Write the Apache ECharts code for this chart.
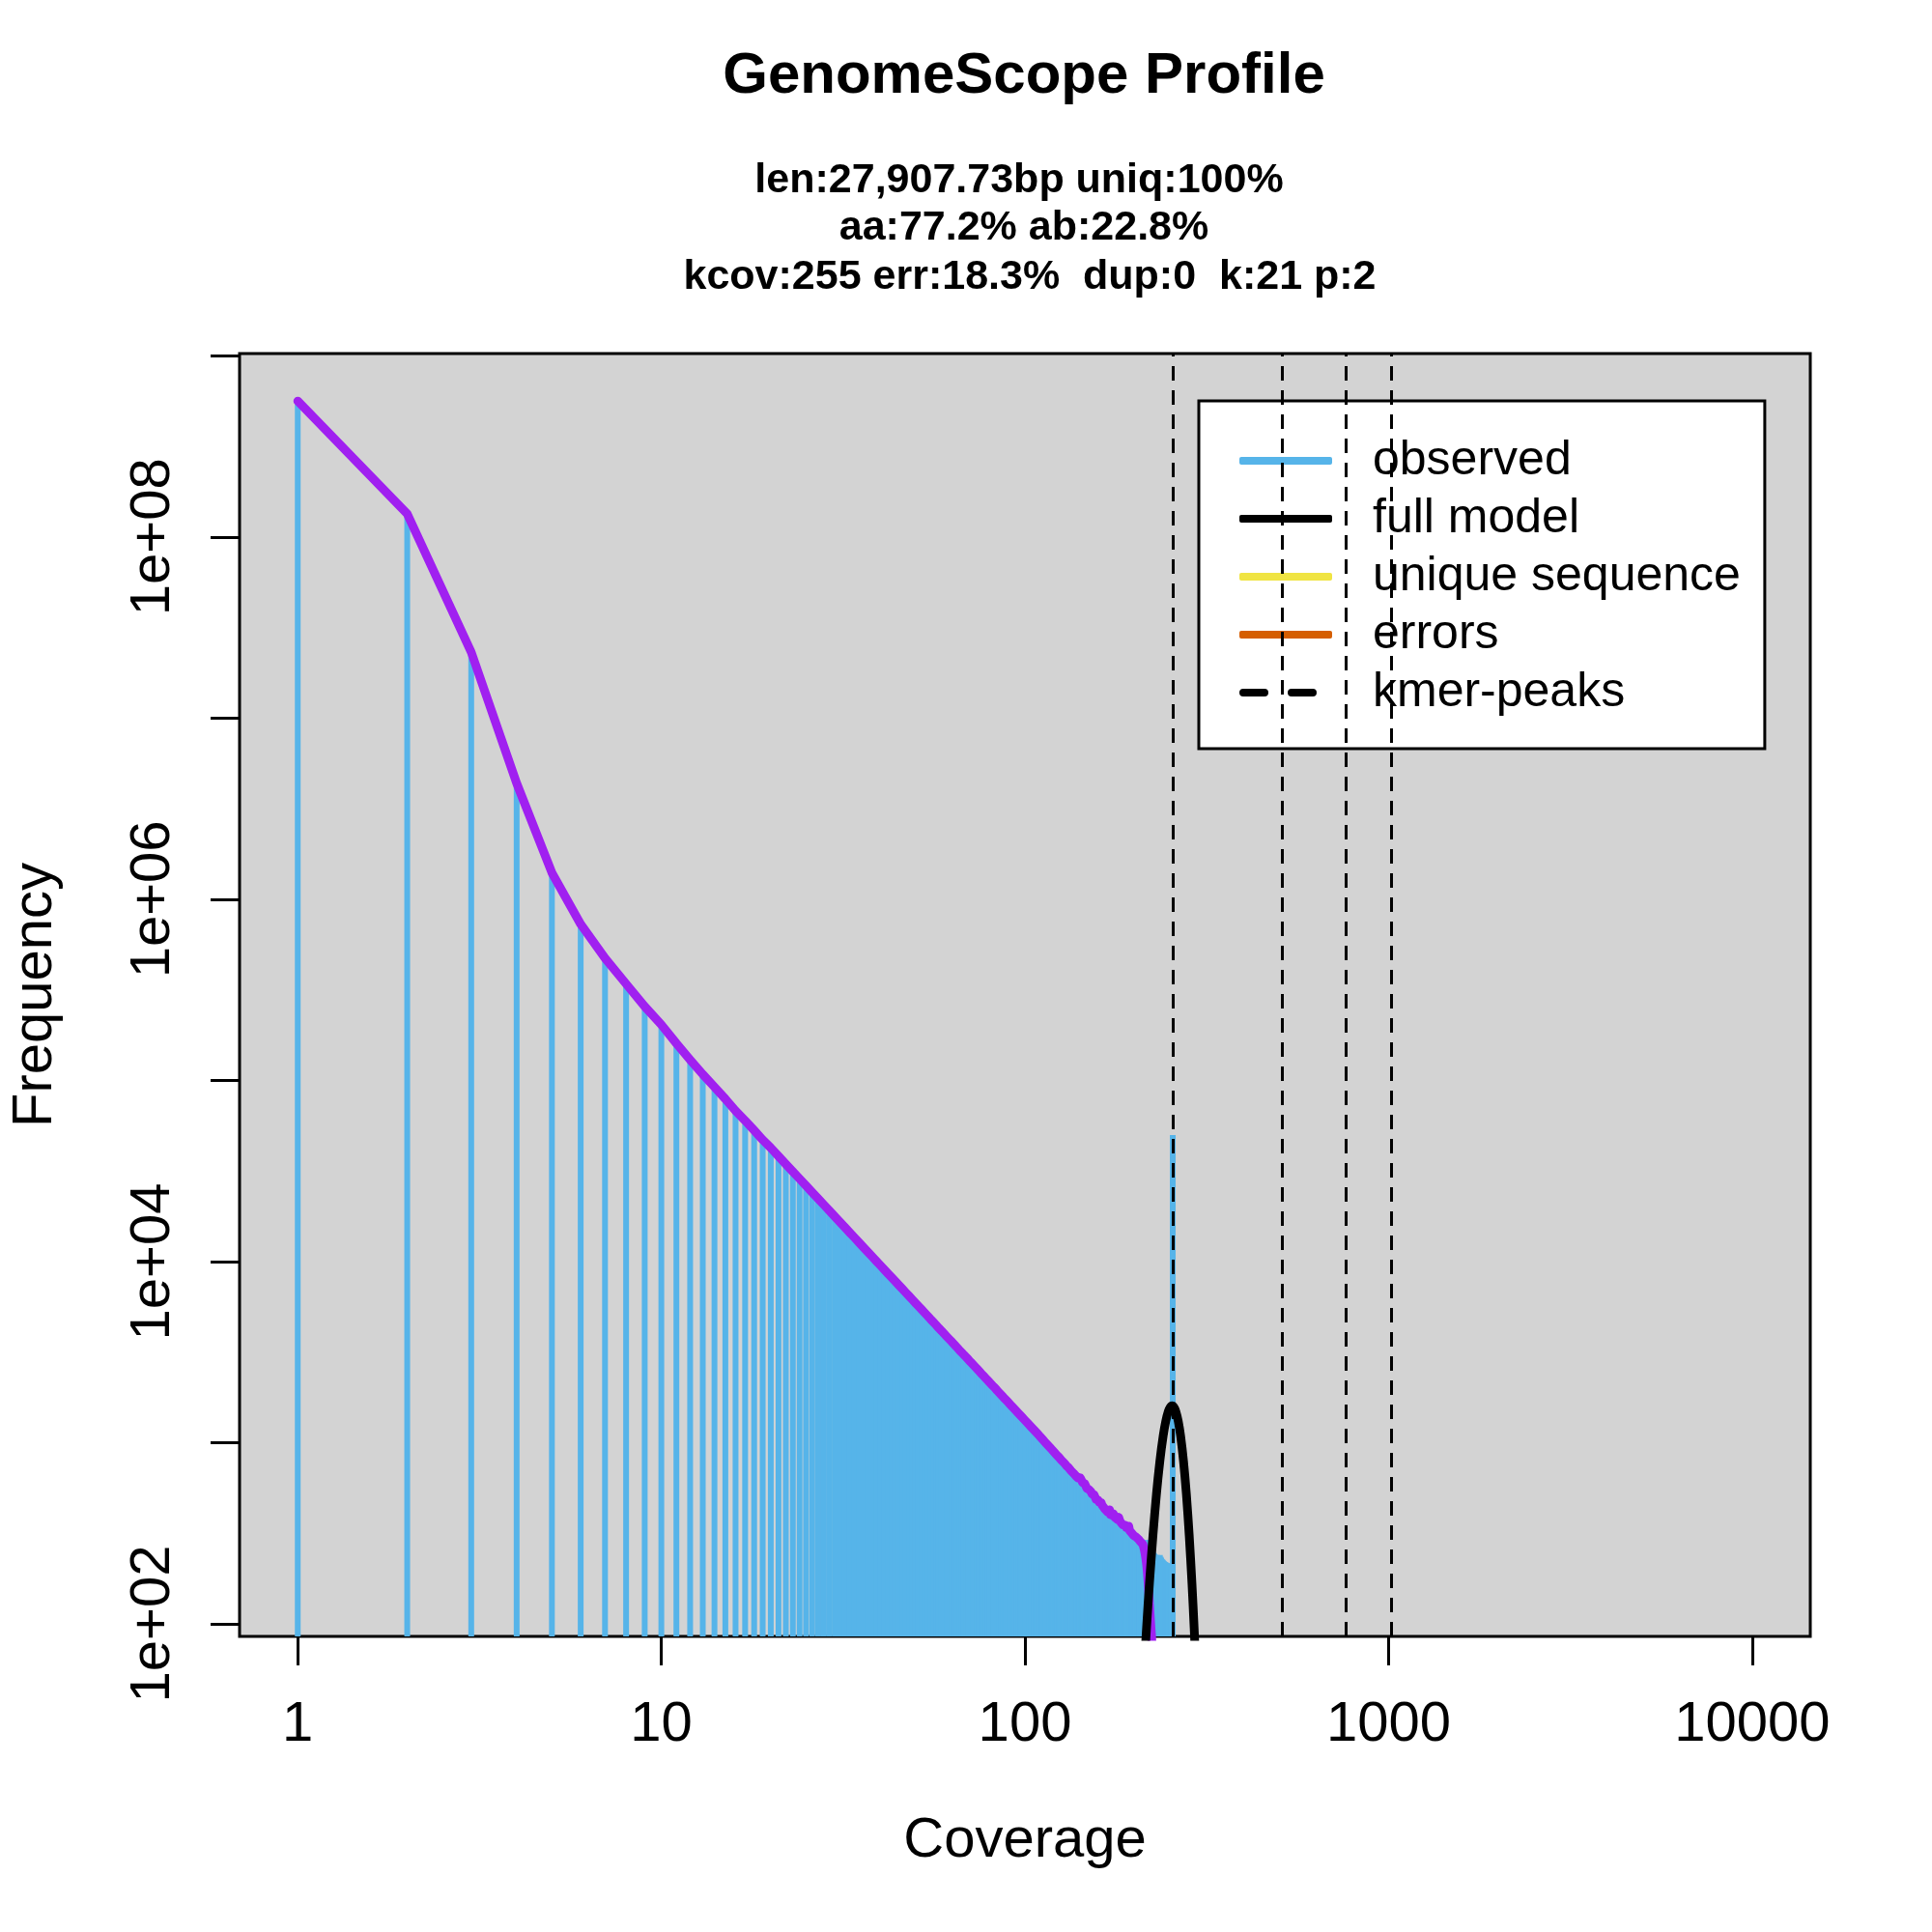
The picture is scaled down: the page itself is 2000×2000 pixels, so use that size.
<!DOCTYPE html>
<html>
<head>
<meta charset="utf-8">
<script src="https://cdn.jsdelivr.net/npm/echarts@6/dist/echarts.min.js"></script>
<style>
html,body{margin:0;padding:0;background:#ffffff;}
#chart{width:2000px;height:2000px;}
</style>
</head>
<body>
<div id="chart"></div>
<script>
// ---------------- DATA ----------------
// observed k-mer histogram, coverage 1..255 (frequency at each integer coverage)
const observedFrequency = [
  562000000,134000000,23100000,4370000,1400000,728000,473000,341000,256000,203000,
  160000,130000,108000,92000,79000,68000,60000,53000,47000,42400,
  38150,34510,31370,28630,26230,24100,22230,20550,19060,17720,
  16510,15420,14430,13540,12720,11970,11290,10660,10080,9545,
  9050,8590,8170,7780,7410,7070,6750,6450,6170,5910,
  5660,5430,5210,5010,4810,4630,4460,4290,4140,3990,
  3850,3720,3600,3475,3360,3250,3150,3050,2960,2870,
  2780,2700,2620,2545,2470,2400,2335,2270,2210,2150,
  2095,2040,1990,1935,1890,1840,1795,1750,1710,1670,
  1630,1590,1555,1520,1486,1453,1421,1390,1360,1331,
  1303,1276,1249,1223,1198,1174,1151,1128,1106,1084,
  1068,1040,1027,998,990,962,955,928,921,893,
  889,860,858,832,830,801,803,776,778,748,
  752,726,727,700,705,679,684,657,664,638,
  648,640,636,604,598,594,585,560,556,552,
  548,536,520,518,516,500,486,484,482,470,
  466,468,452,446,444,430,428,426,414,412,
  426,400,396,394,406,402,386,380,378,376,
  388,376,366,362,364,352,350,346,350,340,
  334,336,346,328,322,320,326,314,308,312,
  306,302,296,300,294,288,292,284,282,284,
  280,287,284,289,286,290,290,285,280,275,
  268,262,258,255,250,246,244,241,238,236,
  240,238,236,238,240,235,232,228,226,224,
  222,220,219,218,217,216,215,214,212,210,
  208,206,204,202,50000
];
// purple line: follows the observed counts up to coverage 210, then these values for 211..224
const purpleLineTail = [275,266,256,244,230,214,195,172,150,130,112,97,86,72];
// full model curve (coverage, frequency)
const modelCoverage  = [212,216,220,225,230,235,240,244,248,251,254,257,260,264,268,273,278,283,288,292,296];
const modelFrequency = [51,95,167,309,520,790,1091,1316,1491,1572,1600,1572,1491,1316,1091,790,520,309,167,95,51];
// kmer peaks (dashed verticals)
const kmerPeaks = [255,510,765,1020];
// axis ticks
const xTickValues = [1,10,100,1000,10000];
const yTickValues = [1e2,1e3,1e4,1e5,1e6,1e7,1e8,1e9];
const yLabelValues = [1e2,1e4,1e6,1e8];
// texts
const titleText = 'GenomeScope Profile';
const subtitleLines = [
  'len:27,907.73bp uniq:100%',
  'aa:77.2% ab:22.8%',
  'kcov:255 err:18.3%  dup:0  k:21 p:2'
];
const legendNames = ['observed','full model','unique sequence','errors','kmer-peaks'];
const xAxisTitle = 'Coverage';
const yAxisTitle = 'Frequency';

// ---------------- CHART ----------------
const FONT = '"Liberation Sans", Arimo, Arial, sans-serif';
const chart = echarts.init(document.getElementById('chart'), null, {renderer:'canvas', width:2000, height:2000});

const observedData = observedFrequency.map((v, i) => [i + 1, v]);
const purpleValues = observedFrequency.slice(0, 210).concat(purpleLineTail);
const purpleData = purpleValues.map((v, i) => [i + 1, v]);
const modelData = modelCoverage.map((c, i) => [c, modelFrequency[i]]);

function sciLabel(v) {
  const e = Math.round(Math.log10(v));
  return '1e+' + (e < 10 ? '0' + e : String(e));
}

const subtitleX = [1055, 1060, 1066];
const subtitleY = [187, 236, 287];
const dashIcon = 'path://M4,0H26A4,4,0,0,1,26,8H4A4,4,0,0,1,4,0Z M54,0H76A4,4,0,0,1,76,8H54A4,4,0,0,1,54,0Z M95.9,3.95H96V4.05H95.9Z';

const option = {
  animation: false,
  backgroundColor: '#ffffff',
  textStyle: {fontFamily: FONT, color: '#000000'},
  graphic: [
    {type:'text', x:1060, y:79, silent:true,
     style:{text:titleText, fill:'#000', font:'bold 60px ' + FONT, textAlign:'center', textVerticalAlign:'middle'}}
  ].concat(subtitleLines.map((t, i) => ({
    type:'text', x:subtitleX[i], y:subtitleY[i], silent:true,
    style:{text:t, fill:'#000', font:'bold 43px ' + FONT, textAlign:'center', textVerticalAlign:'middle'}
  }))),
  grid: {
    left: 246, top: 366, width: 1628, height: 1328,
    show: true, backgroundColor: '#D3D3D3', borderColor: '#000000', borderWidth: 3
  },
  xAxis: {
    type: 'log', logBase: 10, min: 0.6918, max: 14454,
    name: xAxisTitle, nameLocation: 'middle', nameGap: 183,
    nameTextStyle: {fontSize: 58, color: '#000', fontFamily: FONT},
    axisLine: {show: false},
    axisTick: {show: true, inside: false, length: 30, lineStyle: {color: '#000', width: 3}, customValues: xTickValues},
    axisLabel: {fontSize: 58, color: '#000', margin: 63, fontFamily: FONT, customValues: xTickValues,
                formatter: v => String(Math.round(v))},
    splitLine: {show: false}, minorTick: {show: false}, minorSplitLine: {show: false}
  },
  yAxis: {
    type: 'log', logBase: 10, min: 85.3, max: 1.028e9,
    name: yAxisTitle, nameLocation: 'middle', nameGap: 182,
    nameTextStyle: {fontSize: 58, color: '#000', fontFamily: FONT},
    axisLine: {show: false},
    axisTick: {show: true, inside: false, length: 30, lineStyle: {color: '#000', width: 3}, customValues: yTickValues},
    axisLabel: {fontSize: 58, color: '#000', margin: 60, rotate: 90, fontFamily: FONT, customValues: yLabelValues,
                formatter: v => sciLabel(v)},
    splitLine: {show: false}, minorTick: {show: false}, minorSplitLine: {show: false}
  },
  legend: {
    orient: 'vertical', left: 1241, top: 415,
    padding: [37, 25, 33, 42], itemGap: 10, itemWidth: 96, itemHeight: 8,
    backgroundColor: '#ffffff', borderColor: '#000000', borderWidth: 3, borderRadius: 0,
    selectedMode: false,
    textStyle: {fontSize: 50, color: '#000', fontFamily: FONT, padding: [0, 0, 0, 37]},
    data: [
      {name: legendNames[0], icon: 'roundRect'},
      {name: legendNames[1], icon: 'roundRect'},
      {name: legendNames[2], icon: 'roundRect'},
      {name: legendNames[3], icon: 'roundRect'},
      {name: legendNames[4], icon: dashIcon}
    ]
  },
  series: [
    {
      name: legendNames[0], type: 'bar', data: observedData, barWidth: 6,
      itemStyle: {color: '#56B4E9'}, clip: true, z: 2, silent: true
    },
    {
      name: 'observed-line', type: 'line', data: purpleData, symbol: 'none', clip: true, z: 3, silent: true,
      itemStyle: {color: '#A020F0'},
      lineStyle: {color: '#A020F0', width: 9, cap: 'round', join: 'round'}
    },
    {
      name: legendNames[1], type: 'line', data: modelData, symbol: 'none', smooth: 0.3, clip: true, z: 4, silent: true,
      itemStyle: {color: '#000000'},
      lineStyle: {color: '#000000', width: 9, cap: 'round', join: 'round'}
    },
    {
      name: legendNames[2], type: 'line', data: [], symbol: 'none',
      itemStyle: {color: '#F0E442'}, lineStyle: {color: '#F0E442', width: 9, cap: 'round'}
    },
    {
      name: legendNames[3], type: 'line', data: [], symbol: 'none',
      itemStyle: {color: '#D55E00'}, lineStyle: {color: '#D55E00', width: 9, cap: 'round'}
    },
    {
      name: legendNames[4], type: 'line', data: [], symbol: 'none', z: 5,
      itemStyle: {color: '#000000'}, lineStyle: {color: '#000000', width: 7, type: [30, 20], cap: 'round'},
      markLine: {
        silent: true, symbol: ['none', 'none'], label: {show: false}, animation: false,
        lineStyle: {color: '#000000', width: 3, type: [15, 10]},
        emphasis: {disabled: true},
        data: kmerPeaks.map(p => ({xAxis: p}))
      }
    }
  ]
};
chart.setOption(option);
</script>
</body>
</html>
